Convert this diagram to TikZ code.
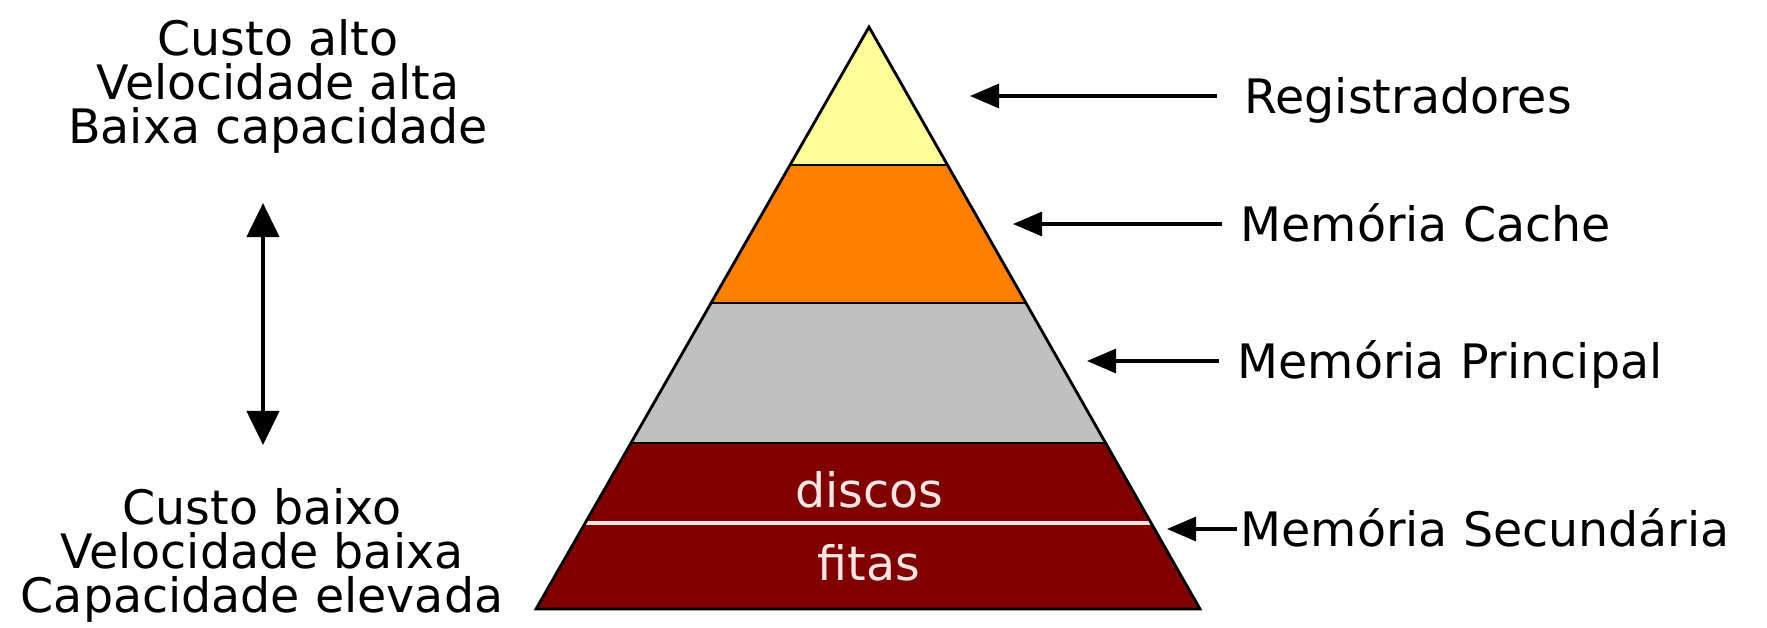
\documentclass[tikz,border=0pt]{standalone}
\usepackage{fontspec}
\setmainfont{DejaVu Sans}
\usetikzlibrary{arrows.meta, calc, positioning}
\definecolor{regyellow}{RGB}{255,255,153}
\definecolor{cacheorange}{RGB}{255,128,0}
\definecolor{maingray}{RGB}{192,192,192}
\definecolor{secred}{RGB}{128,0,0}
\definecolor{secpink}{RGB}{255,228,228}

\begin{document}
\begin{tikzpicture}[
    x=0.01cm, y=-0.01cm,
    every node/.style={font=\fontsize{13.5}{12.5}\selectfont},
    memlabel/.style={anchor=west, inner ysep=0pt, text height=0.34cm, text depth=0pt},
    pointer/.style={line width=0.9pt, -{Triangle[length=0.29cm, width=0.24cm]}},
    updown/.style={line width=1.2pt, {Triangle[length=0.34cm, width=0.32cm]}-{Triangle[length=0.34cm, width=0.32cm]}},
    sidetext/.style={align=center, inner sep=0pt},
    bandtext/.style={text=secpink, inner sep=0pt}
]
    \useasboundingbox (0,0) rectangle (1767,627);

    % corners of the pyramid
    \coordinate (apex) at (869,27);
    \coordinate (bl) at (536,609);
    \coordinate (br) at (1200,609);

    % coloured levels
    \begin{scope}
        \clip (apex) -- (bl) -- (br) -- cycle;
        \fill[regyellow] (500,0) rectangle (1250,165);
        \fill[cacheorange] (500,165) rectangle (1250,303);
        \fill[maingray] (500,303) rectangle (1250,443);
        \fill[secred] (500,443) rectangle (1250,609);
        \draw[line width=0.8pt] (500,165) -- (1250,165) (500,303) -- (1250,303) (500,443) -- (1250,443);
        \draw[secpink, line width=0.9pt] (500,523) -- (1250,523);
    \end{scope}
    \draw[line width=0.8pt] (apex) -- (bl) -- (br) -- cycle;

    \node[bandtext] (discos) at (869,490) {discos};
    \node[bandtext] (fitas) at (869,563) {fitas};

    % labels on the right
    \node[memlabel, inner xsep=0.27cm] (reg) at (1217,96) {Registradores};
    \node[memlabel, inner xsep=0.18cm] (cache) at (1222,224) {Memória Cache};
    \node[memlabel, inner xsep=0.18cm] (principal) at (1219,361) {Memória Principal};
    \node[memlabel, inner xsep=0.03cm] (secundaria) at (1237,529) {Memória Secundária};

    \coordinate (regtip) at (970,96);
    \coordinate (cachetip) at (1013,224);
    \coordinate (principaltip) at (1087,361);
    \coordinate (secundariatip) at (1167,529);

    \draw[pointer] (reg.west) -- (regtip);
    \draw[pointer] (cache.west) -- (cachetip);
    \draw[pointer] (principal.west) -- (principaltip);
    \draw[pointer] (secundaria.west) -- (secundariatip);

    % left side
    \node[sidetext] (alto) at (278,86) {Custo alto\\Velocidade alta\\Baixa capacidade};
    \node[sidetext] (baixo) at (262,555) {Custo baixo\\Velocidade baixa\\Capacidade elevada};

    \coordinate (uptip) at (263,203);
    \coordinate (downtip) at (263,445);
    \draw[updown] (uptip) -- (downtip);

\end{tikzpicture}
\end{document}
